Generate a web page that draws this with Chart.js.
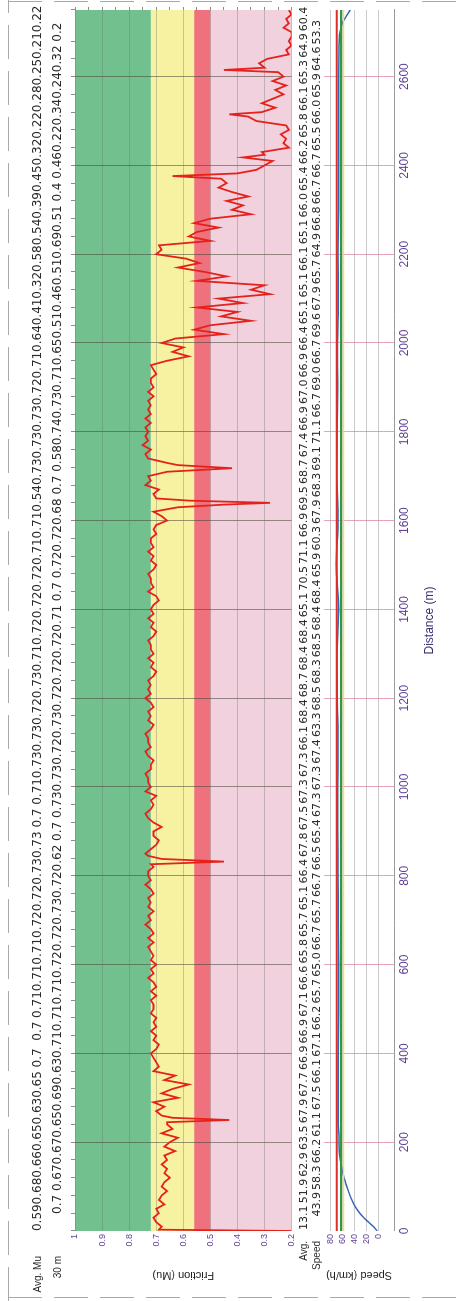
<!DOCTYPE html>
<html>
<head>
<meta charset="utf-8">
<script src="https://cdn.jsdelivr.net/npm/chart.js@4.4.1/dist/chart.umd.min.js"></script>
<style>
  html, body { margin: 0; padding: 0; background: #fff; overflow: hidden; }
  /* the report is laid out landscape and turned a quarter turn to fit the portrait page */
  #sheet { position: absolute; left: 0; top: 0; width: 1301px; height: 457px; background: #fff;
           transform-origin: 0 0; transform: translateY(1301px) rotate(-90deg); }
  #frictionCanvas { position: absolute; left: 0; top: 0; }
  #speedCanvas { position: absolute; left: 0; top: 297px; }
  .dash { position: absolute; }
  .dash.h { height: 1px; background: repeating-linear-gradient(90deg, #a9a9a9 0 34px, transparent 34px 46px); }
  .dash.v { width: 1px; background: repeating-linear-gradient(180deg, #a9a9a9 0 34px, transparent 34px 46px); }
</style>
</head>
<body>
<div id="sheet">
  <canvas id="frictionCanvas" width="1301" height="300"></canvas>
  <canvas id="speedCanvas" width="1301" height="160"></canvas>
  <div class="dash h" style="left:0;top:8px;width:1301px"></div>
  <div class="dash v" style="left:3px;top:8px;height:449px"></div>
  <div class="dash v" style="left:1299px;top:8px;height:449px"></div>
</div>
<script>
// ---- survey data ----
const distanceMax = 2750;
const binLength = 30;

// friction trace: distance (m) and measured Mu
const traceDistance = [
  0, 3, 10, 20, 30, 40, 50, 60, 70, 80, 90, 100, 110, 120, 130, 140, 150, 160, 170, 180, 190, 200,
  210, 220, 230, 240, 245, 250, 255, 260, 270, 280, 290, 300, 310, 320, 330, 340, 350, 360, 370, 380, 390,
  400, 410, 420, 430, 440, 450, 460, 470, 480, 490, 500, 510, 520, 530, 540, 550, 560, 570, 580, 590,
  600, 610, 620, 630, 640, 650, 660, 670, 680, 690, 700, 710, 720, 730, 740, 750, 760, 770, 780, 790,
  800, 810, 820, 826, 832, 838, 845, 850, 860, 870, 880, 890, 900, 910, 920, 930, 940, 950, 960, 970, 980, 990,
  1000, 1010, 1020, 1030, 1040, 1050, 1060, 1070, 1080, 1090, 1100, 1110, 1120, 1130, 1140, 1150, 1160, 1170, 1180, 1190,
  1200, 1210, 1220, 1230, 1240, 1250, 1260, 1270, 1280, 1290, 1300, 1310, 1320, 1330, 1340, 1350, 1360, 1370, 1380, 1390,
  1400, 1410, 1420, 1430, 1440, 1450, 1460, 1470, 1480, 1490, 1500, 1510, 1520, 1530, 1540, 1550, 1560, 1570, 1580, 1590,
  1600, 1610, 1620, 1630, 1636, 1640, 1645, 1650, 1660, 1670, 1680, 1690, 1700, 1710, 1718, 1725, 1730, 1740, 1750, 1760, 1770, 1780, 1790,
  1800, 1810, 1820, 1830, 1840, 1850, 1860, 1870, 1880, 1890, 1900, 1910, 1920, 1930, 1940,
  1950, 1960, 1970, 1980, 1990, 2000, 2010, 2020, 2030, 2040, 2050, 2060, 2070, 2080, 2090, 2100, 2110, 2120, 2130, 2140, 2150, 2160, 2170, 2180, 2190,
  2200, 2210, 2220, 2230, 2240, 2250, 2260, 2270, 2280, 2290, 2300, 2310, 2320, 2330, 2340, 2350, 2360, 2370, 2376, 2382, 2390,
  2400, 2410, 2418, 2424, 2430, 2440, 2450, 2460, 2470, 2480, 2490, 2500, 2510, 2515, 2520, 2530, 2540, 2550, 2560, 2570, 2580, 2590,
  2600, 2610, 2615, 2620, 2630, 2640, 2650, 2660, 2670, 2680, 2690, 2700, 2710, 2720, 2730, 2740, 2750
];
const traceMu = [
  0.20, 0.69, 0.68, 0.70, 0.71, 0.69, 0.70, 0.67, 0.69, 0.68, 0.66, 0.68, 0.67, 0.65, 0.67, 0.66, 0.68, 0.66, 0.67, 0.63, 0.67, 0.65,
  0.62, 0.68, 0.64, 0.66, 0.66, 0.43, 0.64, 0.68, 0.70, 0.67, 0.71, 0.62, 0.68, 0.64, 0.58, 0.67, 0.63, 0.71, 0.69, 0.70, 0.71,
  0.72, 0.70, 0.69, 0.71, 0.70, 0.72, 0.70, 0.71, 0.70, 0.72, 0.71, 0.71, 0.72, 0.70, 0.72, 0.70, 0.71, 0.73, 0.71, 0.72,
  0.70, 0.72, 0.71, 0.72, 0.73, 0.71, 0.73, 0.71, 0.72, 0.74, 0.72, 0.73, 0.71, 0.73, 0.72, 0.73, 0.71, 0.72, 0.74, 0.72,
  0.73, 0.73, 0.71, 0.72, 0.45, 0.68, 0.73, 0.74, 0.72, 0.70, 0.69, 0.71, 0.71, 0.68, 0.71, 0.73, 0.74, 0.72, 0.71, 0.72, 0.70, 0.74,
  0.72, 0.73, 0.73, 0.74, 0.72, 0.72, 0.71, 0.73, 0.74, 0.72, 0.73, 0.73, 0.74, 0.72, 0.71, 0.73, 0.72, 0.73, 0.71, 0.72,
  0.74, 0.72, 0.73, 0.72, 0.73, 0.71, 0.70, 0.72, 0.71, 0.73, 0.71, 0.72, 0.72, 0.73, 0.71, 0.70, 0.72, 0.71, 0.73, 0.71,
  0.72, 0.71, 0.69, 0.70, 0.73, 0.71, 0.72, 0.72, 0.73, 0.71, 0.70, 0.72, 0.71, 0.73, 0.71, 0.72, 0.72, 0.70, 0.71, 0.70,
  0.66, 0.68, 0.71, 0.62, 0.45, 0.28, 0.58, 0.70, 0.71, 0.69, 0.74, 0.72, 0.73, 0.66, 0.42, 0.62, 0.66, 0.73, 0.74, 0.72, 0.75, 0.73, 0.74,
  0.73, 0.74, 0.72, 0.74, 0.72, 0.73, 0.72, 0.73, 0.71, 0.73, 0.71, 0.72, 0.72, 0.70, 0.71,
  0.72, 0.66, 0.58, 0.64, 0.60, 0.68, 0.63, 0.45, 0.56, 0.50, 0.35, 0.46, 0.40, 0.55, 0.38, 0.47, 0.28, 0.35, 0.30, 0.55, 0.44, 0.52, 0.62, 0.54, 0.59,
  0.70, 0.68, 0.69, 0.50, 0.58, 0.55, 0.47, 0.56, 0.50, 0.35, 0.42, 0.38, 0.44, 0.36, 0.42, 0.47, 0.44, 0.46, 0.64, 0.40, 0.33,
  0.30, 0.27, 0.38, 0.30, 0.31, 0.21, 0.23, 0.22, 0.24, 0.21, 0.22, 0.33, 0.36, 0.43, 0.31, 0.26, 0.31, 0.27, 0.23, 0.26, 0.22, 0.27,
  0.23, 0.25, 0.45, 0.30, 0.32, 0.29, 0.21, 0.22, 0.20, 0.21, 0.20, 0.20, 0.23, 0.21, 0.22, 0.20, 0.21
];

// 30 m average Mu, printed on two staggered lines (even and odd sections)
const muAvgEven = [0.59, 0.68, 0.66, 0.65, 0.63, 0.65, 0.7, 0.7, 0.71, 0.71, 0.71, 0.72, 0.72, 0.73, 0.73, 0.7,
  0.71, 0.73, 0.73, 0.72, 0.73, 0.71, 0.72, 0.72, 0.72, 0.71, 0.71, 0.54, 0.73, 0.73, 0.73, 0.72, 0.71, 0.64,
  0.41, 0.32, 0.58, 0.54, 0.39, 0.45, 0.32, 0.22, 0.28, 0.25, 0.21, 0.22];
const muAvgOdd = [0.7, 0.67, 0.67, 0.65, 0.69, 0.63, 0.71, 0.71, 0.71, 0.72, 0.72, 0.73, 0.72, 0.62, 0.7, 0.73,
  0.73, 0.72, 0.73, 0.72, 0.72, 0.72, 0.71, 0.7, 0.72, 0.72, 0.68, 0.7, 0.58, 0.74, 0.73, 0.71, 0.65,
  0.51, 0.46, 0.51, 0.69, 0.51, 0.4, 0.46, 0.22, 0.34, 0.24, 0.32, 0.2];

// 30 m average speed (km/h), same staggered layout
const speedAvgEven = [13.1, 51.9, 62.9, 63.5, 67.9, 67.7, 66.9, 66.9, 67.1, 66.6, 65.8, 65.7, 65.1, 66.4, 67.8,
  67.5, 67.3, 67.3, 66.1, 68.4, 68.7, 68.4, 68.4, 65.1, 70.5, 71.1, 66.9, 69.5, 68.7, 67.4, 66.9, 67.0, 66.9,
  66.4, 65.1, 65.1, 66.1, 65.1, 66.0, 65.4, 66.2, 65.8, 66.1, 65.3, 64.9, 60.4];
const speedAvgOdd = [43.9, 58.3, 66.2, 61.1, 67.5, 66.1, 67.1, 66.2, 65.7, 65.0, 66.7, 65.7, 66.7, 66.5, 65.4,
  67.3, 67.3, 67.4, 63.3, 68.5, 68.3, 68.5, 68.4, 68.4, 65.9, 60.3, 67.9, 68.3, 69.1, 71.1, 66.7, 69.0, 66.7,
  69.6, 67.9, 65.7, 64.9, 66.8, 66.7, 66.7, 65.5, 66.0, 65.9, 64.6, 53.3];

// vehicle speed trace
const speedDistance = [0, 10, 20, 30, 45, 60, 75, 90, 105, 120, 135, 150, 165, 180, 210, 240, 300, 400, 500, 600, 700, 800, 900, 1000,
  1100, 1200, 1300, 1400, 1500, 1600, 1700, 1800, 1900, 2000, 2100, 2200, 2300, 2400, 2500, 2600, 2670, 2700, 2720, 2735, 2750];
const speedKmh = [3, 9, 17, 25, 34, 41, 46, 50, 54, 57, 60, 62, 64, 65, 65.5, 66.5, 66.5, 66.5, 66, 65.8, 66.5, 67, 67.3, 67.5,
  67, 68.2, 68.5, 66, 70, 67, 69, 68.5, 67.5, 68, 66.5, 67, 66, 66, 66, 65.8, 65.3, 64, 60, 54, 47];

// speed reference lines (km/h)
const speedUpper = 69;
const speedTarget = 62;
const speedLower = 58;

// friction classes: band edges and fills
const bandEdges = [0.2, 0.5, 0.56, 0.72, 1.0];
const bandColors = ['#f1d1de', '#ee717d', '#f7f2a2', '#72c08e'];

const frictionTicks = [1, 0.9, 0.8, 0.7, 0.6, 0.5, 0.4, 0.3, 0.2];
const speedTicks = [80, 60, 40, 20, 0];

// ---- drawing ----
const purple = '#5d3f95';
const sans = 'Liberation Sans, Arial, sans-serif';
const axisFont = { family: sans, size: 9 };
const rowFont = '12px "DejaVu Sans", sans-serif';
const rowLabelFont = '10px "Liberation Sans", Arial, sans-serif';
const speedRowFont = '11px "DejaVu Sans", sans-serif';

const bandsPlugin = {
  id: 'bands',
  beforeDraw(chart) {
    const { ctx, chartArea: a, scales: { y } } = chart;
    ctx.save();
    for (let i = 0; i < bandColors.length; i++) {
      const top = y.getPixelForValue(bandEdges[i + 1]);
      const bottom = y.getPixelForValue(bandEdges[i]);
      ctx.fillStyle = bandColors[i];
      ctx.fillRect(a.left, top, a.right - a.left, bottom - top);
    }
    ctx.restore();
  }
};

// staggered section averages, each printed at the end of its 30 m section
function drawRows(chart, rows) {
  const { ctx, scales: { x } } = chart;
  ctx.save();
  ctx.textBaseline = 'middle';
  rows.forEach(r => {
    ctx.fillStyle = '#2a2a2a';
    ctx.font = r.labelFont;
    ctx.textAlign = 'right';
    ctx.fillText(r.label, r.labelX, r.y);
    ctx.font = r.font;
    ctx.textAlign = 'center';
    r.values.forEach((v, k) => {
      const d = (2 * k + r.offset + 1) * binLength;
      ctx.fillText(r.format(v), x.getPixelForValue(d), r.y);
    });
  });
  ctx.restore();
}

const muRowsPlugin = {
  id: 'muRows',
  afterDraw(chart) {
    drawRows(chart, [
      { label: 'Avg. Mu', labelX: 45, y: 38, values: muAvgEven, offset: 0, font: rowFont, labelFont: rowLabelFont, format: v => String(v) },
      { label: '30 m', labelX: 45, y: 58, values: muAvgOdd, offset: 1, font: rowFont, labelFont: rowLabelFont, format: v => String(v) }
    ]);
  }
};

const speedRowsPlugin = {
  id: 'speedRows',
  afterDraw(chart) {
    drawRows(chart, [
      { label: 'Avg.', labelX: 60, y: 7, values: speedAvgEven, offset: 0, font: speedRowFont, labelFont: rowLabelFont, format: v => v.toFixed(1) },
      { label: 'Speed', labelX: 60, y: 20, values: speedAvgOdd, offset: 1, font: speedRowFont, labelFont: rowLabelFont, format: v => v.toFixed(1) }
    ]);
  }
};

new Chart(document.getElementById('frictionCanvas'), {
  type: 'line',
  data: {
    datasets: [{
      data: traceDistance.map((d, i) => ({ x: d, y: traceMu[i] })),
      borderColor: '#e4221b', borderWidth: 1.8, pointRadius: 0, tension: 0, fill: false
    }]
  },
  options: {
    responsive: false, animation: false, devicePixelRatio: 1,
    layout: { padding: { left: 0, right: 7, top: 71, bottom: 3 } },
    plugins: { legend: { display: false }, tooltip: { enabled: false } },
    scales: {
      x: {
        type: 'linear', position: 'top', min: 0, max: distanceMax,
        ticks: { display: false, stepSize: 40, autoSkip: false },
        grid: {
          color: c => (c.tick && c.tick.value % 200 === 0 && c.tick.value > 0) ? 'rgba(70,70,55,0.55)' : 'rgba(0,0,0,0)',
          drawTicks: true, tickLength: 4, tickColor: 'rgba(90,90,90,0.7)'
        },
        border: { display: false }
      },
      y: {
        min: 0.2, max: 1,
        afterFit: s => { s.width = 70; },
        afterBuildTicks: s => { s.ticks = frictionTicks.map(v => ({ value: v })); },
        ticks: { color: purple, font: axisFont, padding: 3, callback: v => String(Math.round(v * 10) / 10) },
        grid: { color: 'rgba(110,110,110,0.35)', drawTicks: false },
        border: { display: false },
        title: { display: true, text: 'Friction (Mu)', color: '#222', font: { family: sans, size: 11 }, padding: { top: 19, bottom: 0 } }
      },
      yr: {
        position: 'right', min: 0.2, max: 1,
        ticks: { display: false, stepSize: 0.05 },
        grid: { drawOnChartArea: false, drawTicks: true, tickLength: 3, tickColor: 'rgba(90,90,90,0.7)' },
        border: { display: false }
      }
    }
  },
  plugins: [bandsPlugin, muRowsPlugin]
});

const flat = v => [{ x: 0, y: v }, { x: distanceMax, y: v }];
new Chart(document.getElementById('speedCanvas'), {
  type: 'line',
  data: {
    datasets: [
      { data: flat(speedLower), borderColor: '#e9e27a', borderWidth: 1.5, pointRadius: 0 },
      { data: flat(speedUpper), borderColor: '#dd2e2a', borderWidth: 2, pointRadius: 0 },
      { data: flat(speedTarget), borderColor: '#2f9a45', borderWidth: 2, pointRadius: 0 },
      { data: speedDistance.map((d, i) => ({ x: d, y: speedKmh[i] })), borderColor: '#3566b4', borderWidth: 1.5, pointRadius: 0, tension: 0.3 }
    ]
  },
  options: {
    responsive: false, animation: false, devicePixelRatio: 1,
    layout: { padding: { left: 0, right: 10, top: 27, bottom: 16 } },
    plugins: { legend: { display: false }, tooltip: { enabled: false } },
    scales: {
      x: {
        type: 'linear', min: 0, max: distanceMax,
        ticks: {
          stepSize: 50, autoSkip: false, maxRotation: 0, color: purple, padding: 3,
          font: { family: sans, size: 12 },
          callback: v => (v % 200 === 0 ? String(v) : '')
        },
        grid: {
          color: c => (c.tick && c.tick.value % 200 === 0 && c.tick.value > 0) ? 'rgba(226,140,165,0.8)' : 'rgba(0,0,0,0)',
          drawTicks: false
        },
        border: { display: true, color: '#9a9a9a' },
        title: { display: true, text: 'Distance (m)', color: '#3b2f72', font: { family: sans, size: 12 }, padding: { top: 8, bottom: 4 } }
      },
      y: {
        min: -25, max: 90,
        afterFit: s => { s.width = 70; },
        afterBuildTicks: s => { s.ticks = speedTicks.map(v => ({ value: v })); },
        ticks: { color: purple, font: axisFont, padding: 3 },
        grid: { color: 'rgba(150,150,150,0.5)', drawTicks: false },
        border: { display: false },
        title: { display: true, text: 'Speed (km/h)', color: '#222', font: { family: sans, size: 11 }, padding: { top: 19, bottom: 0 } }
      }
    }
  },
  plugins: [speedRowsPlugin]
});
</script>
</body>
</html>
